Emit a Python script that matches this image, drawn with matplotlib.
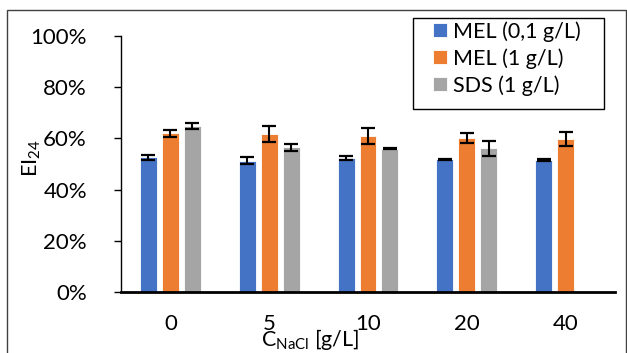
import matplotlib
matplotlib.use("Agg")
import matplotlib.pyplot as plt
from matplotlib.patches import Rectangle
import numpy as np

plt.rcParams['font.family'] = ['Lato', 'DejaVu Sans']
plt.rcParams['mathtext.default'] = 'regular'

# salt concentration groups
categories = ["0", "5", "10", "20", "40"]
series_names = ["MEL (0,1 g/L)", "MEL (1 g/L)", "SDS (1 g/L)"]
colors = ["#4472C4", "#ED7D31", "#A5A5A5"]

# emulsification index, %
mel_01 = [52.6, 51.3, 52.5, 51.8, 51.6]
mel_1 = [62.0, 61.7, 60.9, 60.2, 59.8]
sds_1 = [64.8, 56.5, 56.0, 56.2, 0.0]
# standard deviations
mel_01_err = [0.9, 1.4, 0.8, 0.3, 0.4]
mel_1_err = [1.4, 3.1, 3.2, 2.0, 2.6]
sds_1_err = [1.3, 1.5, 0.2, 2.9, 0.0]

values = [mel_01, mel_1, sds_1]
errors = [mel_01_err, mel_1_err, sds_1_err]

W, H = 627, 353
fig = plt.figure(figsize=(W / 100, H / 100), dpi=100)
ax = fig.add_axes([121 / W, 1 - 292 / H, 494 / W, 256 / H])

x = np.arange(len(categories))
offsets = [-0.222, 0.0, 0.222]
for vals, errs, off, col, name in zip(values, errors, offsets, colors, series_names):
    # skip the missing SDS point at 40 g/L
    v = np.array(vals)
    e = np.array(errs)
    mask = v > 0
    ax.bar(x[mask] + off, v[mask], width=0.172, color=col, edgecolor="white",
           linewidth=0.6, label=name, zorder=2)
    ax.errorbar(x[mask] + off, v[mask], yerr=e[mask], fmt="none", ecolor="black",
                elinewidth=1.5, capsize=5, capthick=1.6, zorder=3)

ax.set_xlim(-0.5, len(categories) - 0.5)
ax.set_ylim(0, 100)
ax.set_yticks(np.arange(0, 101, 20))
ax.set_yticklabels([f"{t}%" for t in range(0, 101, 20)])
ax.set_xticks(x)
ax.set_xticklabels(categories)

for s in ["top", "right"]:
    ax.spines[s].set_visible(False)
ax.spines["left"].set_linewidth(1.0)
ax.spines["bottom"].set_linewidth(2.0)
ax.tick_params(axis="y", length=5, width=1.0, pad=19.5, labelsize=16)
ax.tick_params(axis="x", length=0, pad=16, labelsize=16)

fig.text(32 / W, 1 - 158 / H, "EI$_{24}$", fontsize=15.5, rotation=90,
         ha="center", va="center")
fig.text(310 / W, 1 - 339 / H, "C$_{NaCl}$ [g/L]", fontsize=15.5,
         ha="center", va="center")

leg = ax.legend(loc="upper left", bbox_to_anchor=(433 / W, 1 - 21 / H),
                bbox_transform=fig.transFigure, fontsize=15.5, frameon=False,
                handlelength=0.65, handleheight=0.65, handletextpad=0.3,
                borderpad=0, labelspacing=0.3, borderaxespad=0)

# legend box
fig.patches.append(Rectangle((413 / W, 1 - 109 / H), 191 / W, 91 / H,
                             transform=fig.transFigure, fill=False,
                             edgecolor="black", linewidth=1.0))
# outer chart frame
fig.patches.append(Rectangle((7 / W, -0.1), 619 / W, 1.1 - 10 / H,
                             transform=fig.transFigure, fill=False,
                             edgecolor="#404040", linewidth=1.0))

fig.savefig("out.png", dpi=100)
